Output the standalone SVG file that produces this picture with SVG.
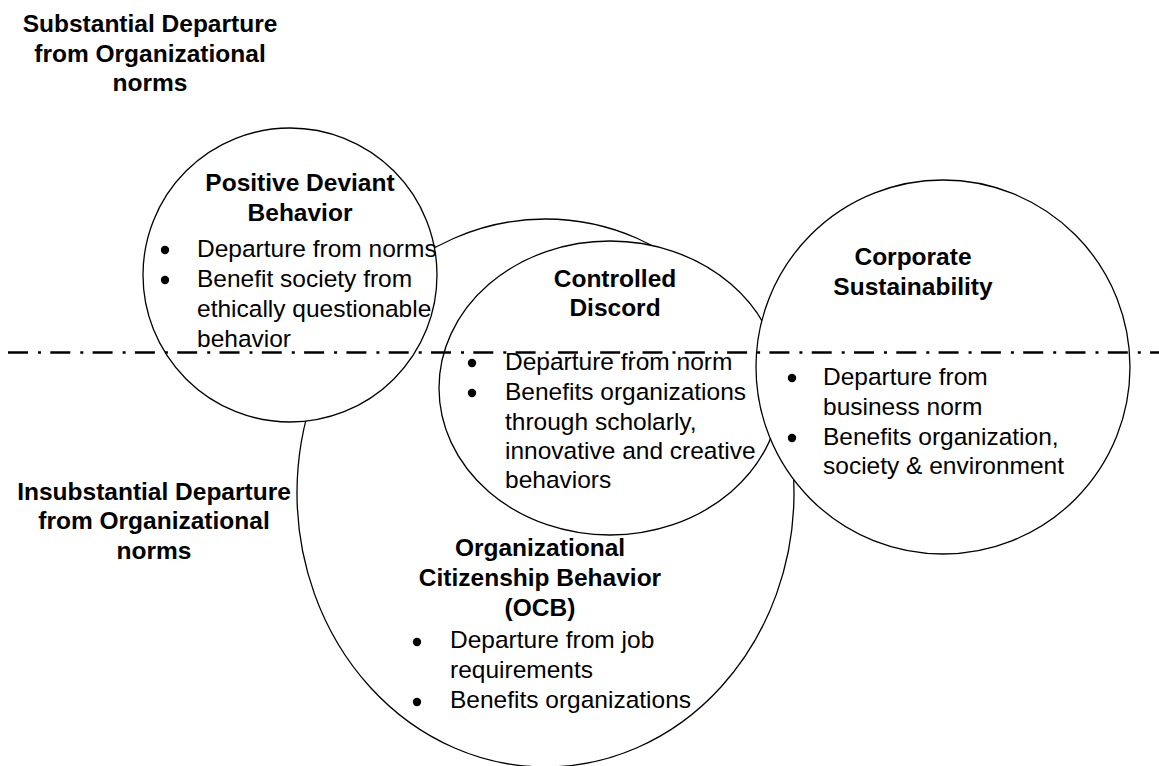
<svg xmlns="http://www.w3.org/2000/svg" width="1159" height="766" viewBox="0 0 1159 766">
<style>
.shape{fill:#fff;stroke:#000;stroke-width:1.3}
.t{font-family:"Liberation Sans",Arial,sans-serif;font-size:24.5px;fill:#000}
.b{font-weight:bold;text-anchor:middle}
.dot{fill:#000}
.axis{stroke:#000;stroke-width:2.5;stroke-dasharray:20 10 3 9.3;fill:none}
</style>
<rect width="1159" height="766" fill="#fff"/>
<g id="label-substantial">
<text class="t b" x="150" y="31.5">Substantial Departure</text>
<text class="t b" x="150" y="61.5">from Organizational</text>
<text class="t b" x="150" y="91">norms</text>
</g>
<g id="label-insubstantial">
<text class="t b" x="154" y="499.5">Insubstantial Departure</text>
<text class="t b" x="154" y="529">from Organizational</text>
<text class="t b" x="154" y="558.5">norms</text>
</g>
<g id="node-ocb">
<ellipse class="shape" cx="545.5" cy="493" rx="248.5" ry="274"/>
<text class="t b" x="540" y="556">Organizational</text>
<text class="t b" x="540" y="586">Citizenship Behavior</text>
<text class="t b" x="540" y="616">(OCB)</text>
<circle class="dot" cx="417" cy="642" r="4.2"/>
<text class="t" x="450" y="648">Departure from job</text>
<text class="t" x="450" y="678">requirements</text>
<circle class="dot" cx="417" cy="702" r="4.2"/>
<text class="t" x="450" y="708">Benefits organizations</text>
</g>
<g id="node-controlled-discord">
<ellipse class="shape" cx="610" cy="388" rx="171" ry="147"/>
<text class="t b" x="615" y="287">Controlled</text>
<text class="t b" x="615" y="316">Discord</text>
<circle class="dot" cx="472" cy="363" r="4.2"/>
<text class="t" x="505" y="370">Departure from norm</text>
<circle class="dot" cx="472" cy="393" r="4.2"/>
<text class="t" x="505" y="400">Benefits organizations</text>
<text class="t" x="505" y="429.5">through scholarly,</text>
<text class="t" x="505" y="459">innovative and creative</text>
<text class="t" x="505" y="488">behaviors</text>
</g>
<g id="node-positive-deviant">
<circle class="shape" cx="290" cy="275" r="147"/>
<text class="t b" x="300" y="191">Positive Deviant</text>
<text class="t b" x="300" y="220.5">Behavior</text>
<circle class="dot" cx="165" cy="250" r="4.2"/>
<text class="t" x="197" y="257">Departure from norms</text>
<circle class="dot" cx="165" cy="280" r="4.2"/>
<text class="t" x="197" y="287">Benefit society from</text>
<text class="t" x="197" y="317">ethically questionable</text>
<text class="t" x="197" y="347">behavior</text>
</g>
<g id="node-corporate-sustainability">
<circle class="shape" cx="943" cy="367" r="187"/>
<text class="t b" x="913" y="265">Corporate</text>
<text class="t b" x="913" y="295">Sustainability</text>
<circle class="dot" cx="792" cy="378" r="4.2"/>
<text class="t" x="823" y="385">Departure from</text>
<text class="t" x="823" y="414.5">business norm</text>
<circle class="dot" cx="792" cy="438" r="4.2"/>
<text class="t" x="823" y="444.5">Benefits organization,</text>
<text class="t" x="823" y="474">society &amp; environment</text>
</g>
<g id="connectors">
<line class="axis" x1="8" y1="352.5" x2="1159" y2="352.5"/>
</g>
</svg>
